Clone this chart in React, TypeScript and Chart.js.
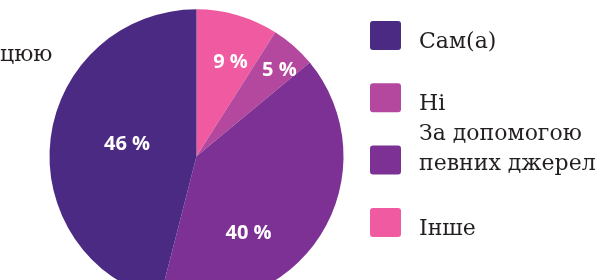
import React, { useEffect, useRef } from "react";
import { Chart, registerables } from "chart.js";

Chart.register(...registerables);

// Data (pie order: clockwise from top)
const categories = ["Інше", "Ні", "За допомогою певних джерел", "Сам(а)"];
const values = [9, 5, 40, 46];
const colors = ["#EF5AA0", "#B3489E", "#7E3194", "#4B2A83"];
// Legend order (indices into categories) and display lines
const legendOrder = [3, 1, 2, 0];
const legendLines = [["Інше"], ["Ні"], ["За допомогою", "певних джерел"], ["Сам(а)"]];
const sideText = "цюю";

// label placement tweaks: [angle offset in degrees from slice middle, radius fraction]
const labelPlacement = [
  [3.7, 0.68],
  [2.4, 0.815],
  [23.7, 0.635],
  [3.0, 0.48],
];

const W = 609;
const H = 330;

const overlayPlugin = {
  id: "overlay",
  afterDraw(chart: any) {
    const ctx = chart.ctx;
    const meta = chart.getDatasetMeta(0);
    ctx.save();
    // slice labels
    ctx.fillStyle = "#ffffff";
    ctx.font = "bold 20px 'Open Sans', sans-serif";
    ctx.textAlign = "center";
    ctx.textBaseline = "middle";
    meta.data.forEach((arc: any, i: number) => {
      const p = arc.getProps(["x", "y", "startAngle", "endAngle", "outerRadius"], true);
      const mid = (p.startAngle + p.endAngle) / 2 + (labelPlacement[i][0] * Math.PI) / 180;
      const r = p.outerRadius * labelPlacement[i][1];
      const lx = p.x + Math.cos(mid) * r;
      const ly = p.y + Math.sin(mid) * r;
      ctx.fillText(values[i] + " %", lx, ly);
    });

    // legend
    const sqX = 370;
    const sqW = 31;
    const sqH = 29;
    const top0 = 21;
    const step = 62.3;
    ctx.textAlign = "left";
    ctx.textBaseline = "alphabetic";
    ctx.font = "22px 'DejaVu Serif', serif";
    legendOrder.forEach((idx, k) => {
      const y = top0 + k * step;
      ctx.fillStyle = colors[idx];
      ctx.beginPath();
      (ctx as any).roundRect(sqX, y, sqW, sqH, 3);
      ctx.fill();
      const cy = y + sqH / 2;
      ctx.fillStyle = "#231F20";
      const lines = legendLines[idx];
      if (lines.length === 1) {
        ctx.fillText(lines[0], 419, cy + 12.5);
      } else {
        ctx.fillText(lines[0], 419, cy - 20.5);
        ctx.fillText(lines[1], 419, cy + 9.5);
      }
    });

    // partially visible side text
    ctx.fillText(sideText, 0, 61);
    ctx.restore();
  },
};

export default function App() {
  const ref = useRef<HTMLCanvasElement | null>(null);
  useEffect(() => {
    if (!ref.current) return;
    const chart = new Chart(ref.current, {
      type: "pie",
      data: {
        labels: categories,
        datasets: [
          {
            data: values,
            backgroundColor: colors,
            borderWidth: 0,
          },
        ],
      },
      options: {
        responsive: false,
        animation: false,
        layout: {
          padding: { left: 49.5, top: 9.3, right: W - 49.5 - 294, bottom: H - 9.3 - 294 },
        },
        plugins: {
          legend: { display: false },
          tooltip: { enabled: false },
        },
      },
      plugins: [overlayPlugin],
    });
    return () => chart.destroy();
  }, []);
  return (
    <div
      style={{
        position: "fixed",
        left: 0,
        top: 0,
        width: W,
        height: 280,
        overflow: "hidden",
        background: "#ffffff",
      }}
    >
      <canvas ref={ref} width={W} height={H} style={{ display: "block", width: W, height: H }} />
    </div>
  );
}
